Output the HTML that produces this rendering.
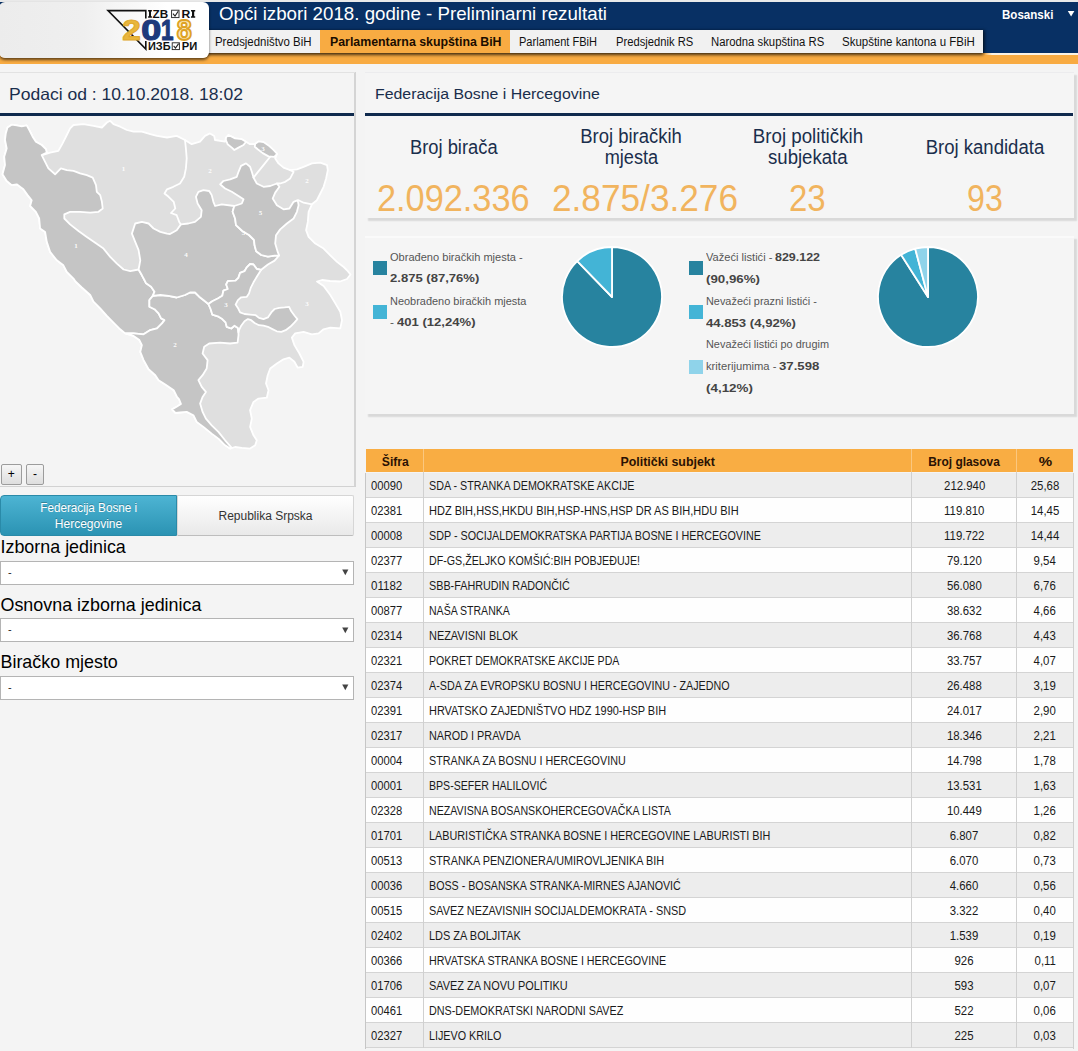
<!DOCTYPE html><html><head><meta charset="utf-8"><title>Opći izbori 2018</title><style>
html,body{margin:0;padding:0}
body{width:1078px;height:1051px;position:relative;overflow:hidden;background:#f4f4f4;font-family:"Liberation Sans",sans-serif;}
.t{position:absolute;white-space:pre;line-height:1;}
.abs{position:absolute;}
</style></head><body><div class="abs" style="left:0;top:0;width:1078px;height:2px;background:#e9e9e9"></div><div class="abs" style="left:0;top:2px;width:1078px;height:51px;background:#083064"></div><div class="abs" style="left:0;top:52.6px;width:1078px;height:11.2px;background:#f8ab42"></div><div class="abs" style="left:984px;top:52.6px;width:94px;height:2.4px;background:linear-gradient(90deg,rgba(251,243,228,0),#fbf3e4 8px)"></div><div class="abs" style="left:200px;top:30px;width:783px;height:23px;background:#f1f1f1;box-shadow:0 2px 3px rgba(0,0,0,.65), 2px 0 3px rgba(0,0,0,.4)"></div><div class="abs" style="left:320px;top:30px;width:190px;height:23px;background:#f8ab42"></div><div class="abs" style="left:-1px;top:2px;width:210px;height:56px;border-radius:6px;background:linear-gradient(90deg,#ececec 0%,#efefef 40%,#fff 80%);box-shadow:0 2px 3px rgba(0,0,0,.6)"></div><svg class="abs" style="left:100px;top:0" width="110" height="62" viewBox="100 0 110 62">
<path d="M145.8 18.5V10.6H108L145.8 49V41" fill="none" stroke="#111" stroke-width="1.6"/>
<g font-family="Liberation Sans,sans-serif" font-weight="bold" font-size="29.5" stroke-linejoin="round">
<text x="122.3" y="40" fill="#e9b63c" stroke="#e0a92e" stroke-width="1.1" textLength="18.6" lengthAdjust="spacingAndGlyphs">2</text>
<text x="141.2" y="40" fill="#1d3a7c" stroke="#1d3a7c" stroke-width="1.2" textLength="20" lengthAdjust="spacingAndGlyphs">0</text>
<text x="161" y="40" fill="#1d3a7c" stroke="#1d3a7c" stroke-width="1.2" textLength="12.5" lengthAdjust="spacingAndGlyphs">1</text>
<text x="176.8" y="40" fill="#fbe9b8" stroke="#dea224" stroke-width="2" textLength="15" lengthAdjust="spacingAndGlyphs">8</text>
</g>
<g font-family="Liberation Sans,sans-serif" font-weight="bold" fill="#111">
<text x="152.6" y="17.8" font-size="10.8" textLength="15.6" lengthAdjust="spacingAndGlyphs">ZB</text>
<text x="181.6" y="17.8" font-size="10.8" textLength="8.8" lengthAdjust="spacingAndGlyphs">R</text>
<text x="148" y="49.6" font-size="10.3" textLength="22.6" lengthAdjust="spacingAndGlyphs">ИЗБ</text>
<text x="181.8" y="49.6" font-size="10.3" textLength="15.5" lengthAdjust="spacingAndGlyphs">РИ</text>
<path d="M148.1 10.1h3.8v1.5h-.9v4.7h.9v1.5h-3.8v-1.5h.9v-4.7h-.9zM191 10.1h4.2v1.5h-1v4.7h1v1.5h-4.2v-1.5h1v-4.7h-1z"/>
</g>
<rect x="171.6" y="10.2" width="7.4" height="7.4" fill="#fff" stroke="#222" stroke-width=".9"/>
<path d="M173 13.6l2 2.4 3.2-4.8" fill="none" stroke="#222" stroke-width="1.1"/>
<rect x="172.2" y="42.8" width="7.2" height="6.8" fill="#fff" stroke="#222" stroke-width=".9"/>
<path d="M173.6 45.8l1.9 2.2 3.1-4.4" fill="none" stroke="#222" stroke-width="1.1"/>
</svg><span class="t" style="left:218.50px;top:4.54px;font-size:18.5px;color:#fff;transform:scaleX(1.0116);transform-origin:0 50%;">Opći izbori 2018. godine - Preliminarni rezultati</span><span class="t" style="left:215.00px;top:36.34px;font-size:12px;color:#111;transform:scaleX(0.9518);transform-origin:0 50%;">Predsjedništvo BiH</span><span class="t" style="left:330.00px;top:36.34px;font-size:12px;color:#1a0d00;font-weight:bold;transform:scaleX(1.0286);transform-origin:0 50%;">Parlamentarna skupština BiH</span><span class="t" style="left:519.30px;top:36.34px;font-size:12px;color:#111;transform:scaleX(0.9209);transform-origin:0 50%;">Parlament FBiH</span><span class="t" style="left:615.60px;top:36.34px;font-size:12px;color:#111;transform:scaleX(0.9333);transform-origin:0 50%;">Predsjednik RS</span><span class="t" style="left:711.30px;top:36.34px;font-size:12px;color:#111;transform:scaleX(0.9427);transform-origin:0 50%;">Narodna skupština RS</span><span class="t" style="left:842.00px;top:36.34px;font-size:12px;color:#111;transform:scaleX(0.9571);transform-origin:0 50%;">Skupštine kantona u FBiH</span><span class="t" style="left:1001.60px;top:9.24px;font-size:12px;color:#fff;font-weight:bold;transform:scaleX(0.9633);transform-origin:0 50%;">Bosanski</span><svg class="abs" style="left:1067px;top:10px" width="9" height="8"><path d="M.8 1h6.6L4.1 6.6z" fill="#fff"/></svg><div class="abs" style="left:0;top:72px;width:354.5px;height:414px;background:#f4f4f4"></div><div class="abs" style="left:354.2px;top:72px;width:1.6px;height:415px;background:#d4d4d4"></div><div class="abs" style="left:0;top:71.5px;width:355px;height:1px;background:#e2e2e2"></div><div class="abs" style="left:0;top:113px;width:354px;height:3px;background:#0f2a4d"></div><span class="t" style="left:9.00px;top:85.73px;font-size:16.5px;color:#1a2e4c;transform:scaleX(1.0627);transform-origin:0 50%;">Podaci od : 10.10.2018. 18:02</span><div class="abs" style="left:0;top:116px;width:354.2px;height:369.5px;background:#f4f4f4"></div><svg style="position:absolute;left:0;top:116px" width="355" height="371" viewBox="0 116 355 371"><g stroke="#fff" stroke-width="1.8" stroke-linejoin="round" stroke-linecap="round"><polygon fill="#dfdfdf" points="7.5,127.5 11.7,124.7 16.7,125.4 21.7,126.4 26.7,125.4 29.7,130.9 32.6,136.7 35.9,141.7 41.7,145.0 45.9,149.2 46.8,152.6 43.0,154.8 50.1,152.6 58.4,150.9 62.6,143.4 66.8,135.0 70.1,128.4 73.5,125.0 83.5,124.2 93.5,125.9 101.9,127.5 106.9,122.5 110.2,120.8 113.5,124.2 120.2,126.7 126.9,130.0 133.6,131.7 141.9,131.7 150.3,134.2 157.0,135.9 167.0,137.5 176.7,135.9 185.0,140.0 191.7,144.2 200.0,141.7 205.0,135.9 210.0,133.4 214.2,135.9 215.0,140.0 225.0,141.7 226.0,137.5 228.4,135.0 235.1,138.4 241.8,139.2 246.0,141.7 250.0,144.2 255.2,144.2 258.5,141.7 263.5,142.6 268.5,147.6 272.7,150.9 276.9,154.2 275.2,158.4 278.5,163.4 283.5,167.6 290.2,170.1 296.9,169.3 303.6,166.8 311.9,163.4 320.3,162.6 327.0,165.1 327.8,170.1 326.1,178.4 323.6,186.8 320.3,193.5 316.9,200.2 311.9,204.3 308.6,211.8 307.8,221.9 306.1,230.2 308.6,236.9 315.3,243.6 323.6,248.6 330.3,255.3 337.0,261.9 343.7,267.0 347.8,271.1 350.5,274.5 347.0,279.0 340.0,281.5 330.0,281.0 322.0,280.0 317.0,281.5 323.6,286.0 330.3,295.0 335.3,303.4 340.3,311.7 342.0,320.1 340.3,328.4 330.3,327.6 323.6,329.3 318.6,333.4 311.9,334.3 303.6,331.8 295.2,333.4 291.9,337.6 294.4,345.1 299.4,353.5 303.6,361.8 302.7,366.8 297.7,367.7 294.4,361.8 289.4,357.6 283.5,359.3 276.9,363.5 270.2,368.5 267.7,375.2 266.0,383.5 268.5,390.2 266.8,397.7 258.5,398.6 253.5,401.9 250.1,410.2 251.8,418.6 250.1,426.9 253.5,435.3 256.8,440.3 255.2,445.3 250.1,448.6 241.8,447.8 235.1,447.0 230.1,448.6 225.1,445.3 218.4,438.6 211.7,433.6 203.4,426.9 196.7,421.9 193.4,415.2 186.7,411.9 180.0,412.5 175.5,413.0 172.0,409.4 177.0,406.5 181.0,404.0 179.0,399.0 177.0,396.9 173.7,390.2 165.3,384.4 158.6,380.2 155.3,375.2 148.6,369.3 143.6,360.1 140.3,351.8 141.9,345.1 139.4,340.1 133.6,335.9 125.2,333.4 120.2,329.3 113.5,322.6 106.9,315.9 100.2,308.4 93.5,301.7 90.2,295.0 81.8,287.5 75.5,281.5 73.5,278.6 66.8,272.0 63.4,265.3 56.8,260.3 50.1,251.9 46.8,241.9 45.1,231.9 40.1,228.5 39.2,218.5 35.9,211.8 30.1,206.0 31.7,200.2 27.6,195.1 23.4,189.3 16.7,184.3 11.7,185.1 6.7,181.0 2.5,174.3 5.0,165.1 4.2,156.7 6.7,148.4 5.0,140.0 5.8,133.4"/><polygon fill="#c5c5c5" points="7.5,127.5 11.7,124.7 16.7,125.4 21.7,126.4 26.7,125.4 29.7,130.9 32.6,136.7 35.9,141.7 41.7,145.0 45.9,149.2 46.8,152.6 41.7,155.1 45.1,161.8 48.4,168.4 55.1,174.3 60.9,168.4 66.8,170.1 73.5,170.9 80.1,173.4 86.8,175.1 92.7,177.6 96.0,185.1 96.8,191.8 100.2,195.1 101.9,201.8 102.7,208.5 98.5,211.8 90.2,212.7 80.1,211.8 70.1,211.8 64.3,214.3 64.3,218.5 70.1,224.4 78.5,231.0 86.8,236.9 95.2,242.7 103.5,248.6 110.2,256.9 116.9,263.6 123.6,269.5 130.2,271.1 138.6,269.5 141.9,275.3 144.4,280.0 146.1,283.3 151.1,286.7 154.5,291.7 152.8,295.9 149.4,300.0 149.4,306.7 154.5,309.2 158.6,313.4 161.1,318.4 164.5,320.1 162.0,323.4 157.0,328.4 150.3,330.1 143.6,334.3 133.6,333.4 125.2,333.4 120.2,329.3 113.5,322.6 106.9,315.9 100.2,308.4 93.5,301.7 90.2,295.0 81.8,287.5 75.5,281.5 73.5,278.6 66.8,272.0 63.4,265.3 56.8,260.3 50.1,251.9 46.8,241.9 45.1,231.9 40.1,228.5 39.2,218.5 35.9,211.8 30.1,206.0 31.7,200.2 27.6,195.1 23.4,189.3 16.7,184.3 11.7,185.1 6.7,181.0 2.5,174.3 5.0,165.1 4.2,156.7 6.7,148.4 5.0,140.0 5.8,133.4"/><polygon fill="#c5c5c5" points="152.8,295.9 160.3,295.0 168.6,295.9 176.7,297.5 185.0,295.0 190.0,292.5 195.0,292.5 199.2,296.7 203.4,300.0 208.4,304.0 210.6,309.0 212.3,314.6 217.8,316.3 222.3,319.1 225.6,322.4 226.7,326.8 231.2,328.5 234.5,325.7 237.9,328.0 238.4,332.4 238.5,335.1 237.6,342.6 230.1,343.5 220.1,342.6 209.2,343.5 204.2,346.8 202.6,353.5 207.6,360.1 206.7,368.5 202.6,375.2 198.4,380.2 201.7,386.9 205.9,391.9 202.6,396.9 200.1,403.6 202.6,411.9 205.9,418.6 211.7,425.3 218.4,431.9 225.1,440.3 231.8,447.8 230.1,448.6 225.1,445.3 218.4,438.6 211.7,433.6 203.4,426.9 196.7,421.9 193.4,415.2 186.7,411.9 180.0,412.5 175.5,413.0 172.0,409.4 177.0,406.5 181.0,404.0 179.0,399.0 177.0,396.9 173.7,390.2 165.3,384.4 158.6,380.2 155.3,375.2 148.6,369.3 143.6,360.1 140.3,351.8 141.9,345.1 139.4,340.1 133.6,335.9 125.2,333.4 133.6,333.4 143.6,334.3 150.3,330.1 157.0,328.4 162.0,323.4 164.5,320.1 161.1,318.4 158.6,313.4 154.5,309.2 149.4,306.7 149.4,300.0"/><polygon fill="#c5c5c5" points="138.6,269.5 141.9,275.3 144.4,280.0 146.1,283.3 151.1,286.7 154.5,291.7 152.8,295.9 160.3,295.0 168.6,295.9 176.7,297.5 185.0,295.0 190.0,292.5 195.0,292.5 199.2,296.7 203.4,300.0 208.4,304.0 212.3,301.2 217.8,298.5 222.3,295.7 223.4,290.7 227.8,289.0 226.2,284.5 227.8,281.2 235.6,280.6 238.4,277.9 240.1,272.9 244.5,271.2 246.8,267.3 250.1,264.0 253.5,264.5 256.8,269.0 261.2,269.8 267.9,264.5 274.6,260.6 279.1,255.5 274.6,255.6 267.9,256.7 261.2,255.0 256.2,251.2 254.6,245.6 254.0,240.0 249.0,235.0 242.3,231.0 236.0,225.2 235.1,218.5 232.6,211.8 234.3,206.0 221.8,204.3 215.1,206.0 213.4,201.8 211.7,195.1 209.2,191.0 203.4,190.1 198.4,191.8 195.9,196.8 197.6,203.5 201.7,210.2 200.9,216.9 195.0,221.9 188.4,223.5 180.9,224.4 176.7,230.2 170.0,234.0 167.0,233.6 160.3,231.9 153.6,228.5 148.6,223.5 141.9,221.9 135.2,223.5 131.9,233.6 135.2,241.9 138.6,250.2 140.3,260.3"/><polygon fill="#c5c5c5" points="234.3,206.0 241.8,203.5 243.5,199.3 238.5,196.0 231.8,191.8 225.1,188.5 220.1,184.3 223.4,181.0 230.1,179.3 236.8,176.8 238.5,171.8 241.0,165.9 246.0,163.4 250.1,166.8 251.8,171.8 253.5,177.6 256.8,183.5 263.5,186.8 270.2,186.0 276.9,183.5 279.4,186.8 275.2,192.6 272.7,198.5 276.9,205.2 283.5,209.3 289.4,208.5 293.6,201.8 297.7,200.2 298.6,205.2 296.9,211.8 293.6,218.5 286.9,223.5 280.2,229.4 276.0,235.2 275.2,243.6 277.7,251.9 279.1,255.5 274.6,255.6 267.9,256.7 261.2,255.0 256.2,251.2 254.6,245.6 254.0,240.0 249.0,235.0 242.3,231.0 236.0,225.2 235.1,218.5 232.6,211.8"/><polygon fill="#c5c5c5" points="208.4,304.0 212.3,301.2 217.8,298.5 222.3,295.7 223.4,290.7 227.8,289.0 226.2,284.5 227.8,281.2 235.6,280.6 238.4,277.9 240.1,272.9 244.5,271.2 246.8,267.3 250.1,264.0 253.5,264.5 256.8,269.0 261.2,269.8 256.8,276.8 253.5,282.3 250.7,287.9 249.0,293.5 246.8,296.8 241.2,297.3 237.9,300.1 235.6,304.6 237.9,307.9 240.1,312.4 244.5,314.0 250.1,314.6 255.7,315.2 259.0,317.9 263.5,319.1 267.9,317.4 271.3,312.4 274.6,309.0 279.1,307.9 284.6,307.4 289.1,306.8 291.3,311.3 294.6,315.7 297.4,319.1 294.6,322.4 290.2,326.8 285.7,330.2 281.3,331.9 276.8,331.3 272.4,329.1 267.9,326.8 263.5,325.7 259.0,325.2 254.6,323.0 251.2,320.2 247.9,319.1 244.5,321.3 241.2,325.7 239.0,330.2 238.4,332.4 237.9,328.0 234.5,325.7 231.2,328.5 226.7,326.8 225.6,322.4 222.3,319.1 217.8,316.3 212.3,314.6 210.6,309.0"/><polygon fill="#c5c5c5" points="226.0,137.5 228.4,135.0 235.1,138.4 241.8,139.2 246.0,141.7 243.5,145.0 238.5,147.6 234.3,150.0 231.8,147.6 227.6,144.2 225.9,140.0"/><polygon fill="#c5c5c5" points="255.2,143.8 258.5,141.4 263.5,142.0 269.3,146.0 273.5,149.8 277.2,153.8 274.3,156.9 268.5,156.4 262.7,153.1 257.7,149.2 254.8,146.7"/><polyline fill="none" points="185.0,140.0 185.9,148.4 186.7,158.4 185.9,168.4 184.2,176.8 180.0,183.5 173.3,186.8 167.0,189.3 164.5,193.5 168.6,196.8 173.7,201.8 175.3,208.5 171.0,213.0 176.7,215.2 179.2,221.9 180.9,224.4"/><polyline fill="none" points="270.2,156.7 263.5,165.1 256.8,173.4 253.5,177.6"/><polyline fill="none" points="290.2,170.1 293.6,171.8 290.2,178.4 285.2,181.8 280.2,183.5 276.9,183.5"/><polyline fill="none" points="311.9,204.3 303.6,202.7 298.6,200.2"/></g><g fill="#fff" font-family="Liberation Serif,serif" font-weight="bold" font-size="7" text-anchor="middle" opacity="0.95"><text x="76" y="248">1</text><text x="123.5" y="170.5">1</text><text x="210" y="172.5">2</text><text x="186" y="257">4</text><text x="260.5" y="214.5">5</text><text x="307" y="182.5">2</text><text x="307" y="306">3</text><text x="226" y="307">3</text><text x="175" y="347">2</text><text x="263" y="150.5">3</text><text x="243.5" y="235">5</text></g></svg><div class="abs" style="left:0;top:485.5px;width:355.8px;height:1.5px;background:#d2d2d2"></div><div class="abs" style="left:1px;top:464px;width:18.5px;height:19px;border:1px solid #9c9c9c;border-radius:2px;background:linear-gradient(#f6f6f6,#dedede);box-sizing:content-box"></div><div class="abs" style="left:26px;top:464px;width:16px;height:19px;border:1px solid #9c9c9c;border-radius:2px;background:linear-gradient(#f6f6f6,#dedede);box-sizing:content-box"></div><span class="t" style="left:7.79px;top:468.34px;font-size:12px;color:#000;">+</span><span class="t" style="left:33.00px;top:467.84px;font-size:12px;color:#000;">-</span><div class="abs" style="left:0;top:495px;width:176.5px;height:40.5px;border-radius:4px 0 0 4px;background:linear-gradient(#4db4d3,#2b93b3);border:1px solid #2a8aa8;box-sizing:border-box"></div><div class="abs" style="left:176.5px;top:495px;width:177px;height:40.5px;border-radius:0 2px 2px 0;background:linear-gradient(#fff,#e9e9e9);border:1px solid #d6d6d6;border-bottom-color:#bdbdbd;box-sizing:border-box"></div><span class="t" style="left:39.10px;top:502.14px;font-size:12px;color:#fff;transform:scaleX(0.9739);transform-origin:50% 50%;text-shadow:0 -1px 0 rgba(0,0,0,.25);">Federacija Bosne i</span><span class="t" style="left:54.81px;top:517.54px;font-size:12px;color:#fff;text-shadow:0 -1px 0 rgba(0,0,0,.25);">Hercegovine</span><span class="t" style="left:218.47px;top:510.34px;font-size:12px;color:#333;">Republika Srpska</span><span class="t" style="left:0.50px;top:539.15px;font-size:17.9px;color:#000;">Izborna jedinica</span><div class="abs" style="left:0;top:560.5px;width:354px;height:24px;border:1px solid #b4b4b4;background:#fff;box-sizing:border-box"></div><span class="t" style="left:8.00px;top:566.69px;font-size:11px;color:#222;">-</span><svg class="abs" style="left:340.5px;top:569.0px" width="9" height="8"><path d="M1.2 .6h6.2L4.3 6.2z" fill="#444"/></svg><span class="t" style="left:0.50px;top:596.75px;font-size:17.9px;color:#000;">Osnovna izborna jedinica</span><div class="abs" style="left:0;top:618.3px;width:354px;height:24px;border:1px solid #b4b4b4;background:#fff;box-sizing:border-box"></div><span class="t" style="left:8.00px;top:624.49px;font-size:11px;color:#222;">-</span><svg class="abs" style="left:340.5px;top:626.8px" width="9" height="8"><path d="M1.2 .6h6.2L4.3 6.2z" fill="#444"/></svg><span class="t" style="left:0.50px;top:654.05px;font-size:17.9px;color:#000;">Biračko mjesto</span><div class="abs" style="left:0;top:675.5px;width:354px;height:24px;border:1px solid #b4b4b4;background:#fff;box-sizing:border-box"></div><span class="t" style="left:8.00px;top:681.69px;font-size:11px;color:#222;">-</span><svg class="abs" style="left:340.5px;top:684.0px" width="9" height="8"><path d="M1.2 .6h6.2L4.3 6.2z" fill="#444"/></svg><div class="abs" style="left:365px;top:72px;width:709px;height:146px;background:#f5f5f5;box-shadow:2.5px 2.5px 1.2px rgba(0,0,0,.11);border-top:1px solid #ececee;box-sizing:border-box"></div><div class="abs" style="left:365px;top:113px;width:708px;height:3px;background:#0f2a4d"></div><span class="t" style="left:375.00px;top:85.88px;font-size:15.5px;color:#1a2e4c;transform:scaleX(1.0232);transform-origin:0 50%;">Federacija Bosne i Hercegovine</span><span class="t" style="left:406.00px;top:136.67px;font-size:20px;color:#1a2e4c;transform:scaleX(0.9162);transform-origin:50% 50%;">Broj birača</span><span class="t" style="left:576.18px;top:125.77px;font-size:20px;color:#1a2e4c;transform:scaleX(0.9232);transform-origin:50% 50%;">Broj biračkih</span><span class="t" style="left:601.75px;top:147.07px;font-size:20px;color:#1a2e4c;transform:scaleX(0.9082);transform-origin:50% 50%;">mjesta</span><span class="t" style="left:749.29px;top:125.77px;font-size:20px;color:#1a2e4c;transform:scaleX(0.9361);transform-origin:50% 50%;">Broj političkih</span><span class="t" style="left:764.99px;top:147.07px;font-size:20px;color:#1a2e4c;transform:scaleX(0.9296);transform-origin:50% 50%;">subjekata</span><span class="t" style="left:921.06px;top:136.67px;font-size:20px;color:#1a2e4c;transform:scaleX(0.9275);transform-origin:50% 50%;">Broj kandidata</span><span class="t" style="left:377.40px;top:181.03px;font-size:36px;color:#f1b45e;transform:scaleX(0.9528);transform-origin:0 50%;">2.092.336</span><span class="t" style="left:552.00px;top:181.03px;font-size:36px;color:#f1b45e;transform:scaleX(0.9780);transform-origin:0 50%;">2.875/3.276</span><span class="t" style="left:788.80px;top:181.03px;font-size:36px;color:#f1b45e;transform:scaleX(0.9164);transform-origin:0 50%;">23</span><span class="t" style="left:966.80px;top:181.03px;font-size:36px;color:#f1b45e;transform:scaleX(0.8940);transform-origin:0 50%;">93</span><div class="abs" style="left:365px;top:236px;width:709px;height:178px;background:#f5f5f5;box-shadow:2.5px 2.5px 1.2px rgba(0,0,0,.11);border-top:2px solid #fafafa;box-sizing:border-box"></div><div class="abs" style="left:372.7px;top:261px;width:14px;height:14px;background:#27839f"></div><div class="abs" style="left:372.7px;top:305px;width:14px;height:14px;background:#43b4d6"></div><div class="abs" style="left:689.2px;top:261px;width:14px;height:14px;background:#27839f"></div><div class="abs" style="left:689.2px;top:305.3px;width:14px;height:14px;background:#43b4d6"></div><div class="abs" style="left:689.2px;top:359.6px;width:14px;height:14px;background:#8fd3ea"></div><span class="t" style="left:390.00px;top:251.69px;font-size:11px;color:#555;transform:scaleX(1.0048);transform-origin:0 50%;">Obrađeno biračkih mjesta -</span><span class="t" style="left:390.00px;top:273.29px;font-size:11px;color:#444;font-weight:bold;transform:scaleX(1.1872);transform-origin:0 50%;">2.875 (87,76%)</span><span class="t" style="left:390.00px;top:295.69px;font-size:11px;color:#555;transform:scaleX(0.9958);transform-origin:0 50%;">Neobrađeno biračkih mjesta</span><span class="t" style="left:390.00px;top:317.49px;font-size:11px;color:#555;transform:scaleX(1.0840);transform-origin:0 50%;">- </span><span class="t" style="left:397.30px;top:317.49px;font-size:11px;color:#444;font-weight:bold;transform:scaleX(1.1885);transform-origin:0 50%;">401 (12,24%)</span><span class="t" style="left:705.80px;top:251.69px;font-size:11px;color:#555;transform:scaleX(1.0091);transform-origin:0 50%;">Važeći listići - </span><span class="t" style="left:775.30px;top:251.69px;font-size:11px;color:#444;font-weight:bold;transform:scaleX(1.1316);transform-origin:0 50%;">829.122</span><span class="t" style="left:705.80px;top:273.89px;font-size:11px;color:#444;font-weight:bold;transform:scaleX(1.2097);transform-origin:0 50%;">(90,96%)</span><span class="t" style="left:705.80px;top:295.69px;font-size:11px;color:#555;transform:scaleX(0.9904);transform-origin:0 50%;">Nevažeći prazni listići -</span><span class="t" style="left:705.80px;top:317.89px;font-size:11px;color:#444;font-weight:bold;transform:scaleX(1.1939);transform-origin:0 50%;">44.853 (4,92%)</span><span class="t" style="left:705.80px;top:339.49px;font-size:11px;color:#555;transform:scaleX(0.9911);transform-origin:0 50%;">Nevažeći listići po drugim</span><span class="t" style="left:705.80px;top:361.49px;font-size:11px;color:#555;transform:scaleX(1.0191);transform-origin:0 50%;">kriterijumima - </span><span class="t" style="left:779.30px;top:361.49px;font-size:11px;color:#444;font-weight:bold;transform:scaleX(1.1974);transform-origin:0 50%;">37.598</span><span class="t" style="left:705.80px;top:382.69px;font-size:11px;color:#444;font-weight:bold;transform:scaleX(1.2198);transform-origin:0 50%;">(4,12%)</span><svg class="abs" style="left:560.2px;top:245px" width="104" height="104" viewBox="560.2 245 104 104"><path d="M612.2 297L612.20 247.00A50 50 0 1 1 577.43 261.07Z" fill="#27839f" stroke="#fff" stroke-width="1.8" stroke-linejoin="round"/><path d="M612.2 297L577.43 261.07A50 50 0 0 1 612.20 247.00Z" fill="#43b4d6" stroke="#fff" stroke-width="1.8" stroke-linejoin="round"/></svg><svg class="abs" style="left:876px;top:245px" width="104" height="104" viewBox="876 245 104 104"><path d="M928 297L928.00 247.00A50 50 0 1 1 901.10 254.85Z" fill="#27839f" stroke="#fff" stroke-width="1.8" stroke-linejoin="round"/><path d="M928 297L901.10 254.85A50 50 0 0 1 915.20 248.67Z" fill="#43b4d6" stroke="#fff" stroke-width="1.8" stroke-linejoin="round"/><path d="M928 297L915.20 248.67A50 50 0 0 1 928.00 247.00Z" fill="#8fd3ea" stroke="#fff" stroke-width="1.8" stroke-linejoin="round"/></svg><div class="abs" style="left:365.6px;top:449.3px;width:707.4px;height:22.7px;background:#f9ad43"></div><span class="t" style="left:381.56px;top:455.64px;font-size:12px;color:#2a1204;font-weight:bold;transform:scaleX(1.0117);transform-origin:50% 50%;">Šifra</span><span class="t" style="left:622.32px;top:455.64px;font-size:12px;color:#2a1204;font-weight:bold;transform:scaleX(1.0322);transform-origin:50% 50%;">Politički subjekt</span><span class="t" style="left:928.38px;top:455.64px;font-size:12px;color:#2a1204;font-weight:bold;transform:scaleX(0.9940);transform-origin:50% 50%;">Broj glasova</span><span class="t" style="left:1039.56px;top:455.64px;font-size:12px;color:#2a1204;font-weight:bold;transform:scaleX(1.2556);transform-origin:50% 50%;">%</span><div class="abs" style="left:365.6px;top:472.5px;width:707.4px;height:24.5px;background:#ededed;border-bottom:1px solid #d4d4d4;box-sizing:content-box"></div><span class="t" style="left:371.40px;top:479.64px;font-size:12px;color:#1a1a1a;transform:scaleX(0.9348);transform-origin:0 50%;">00090</span><span class="t" style="left:429.40px;top:479.64px;font-size:12px;color:#1a1a1a;transform:scaleX(0.8937);transform-origin:0 50%;">SDA - STRANKA DEMOKRATSKE AKCIJE</span><span class="t" style="left:942.80px;top:479.64px;font-size:12px;color:#1a1a1a;transform:scaleX(0.9500);transform-origin:50% 50%;">212.940</span><span class="t" style="left:1029.98px;top:479.64px;font-size:12px;color:#1a1a1a;transform:scaleX(0.9500);transform-origin:50% 50%;">25,68</span><div class="abs" style="left:365.6px;top:497.5px;width:707.4px;height:24.5px;background:#fefefe;border-bottom:1px solid #d4d4d4;box-sizing:content-box"></div><span class="t" style="left:371.40px;top:504.64px;font-size:12px;color:#1a1a1a;transform:scaleX(0.9348);transform-origin:0 50%;">02381</span><span class="t" style="left:429.40px;top:504.64px;font-size:12px;color:#1a1a1a;transform:scaleX(0.9182);transform-origin:0 50%;">HDZ BIH,HSS,HKDU BIH,HSP-HNS,HSP DR AS BIH,HDU BIH</span><span class="t" style="left:943.25px;top:504.64px;font-size:12px;color:#1a1a1a;transform:scaleX(0.9500);transform-origin:50% 50%;">119.810</span><span class="t" style="left:1029.98px;top:504.64px;font-size:12px;color:#1a1a1a;transform:scaleX(0.9500);transform-origin:50% 50%;">14,45</span><div class="abs" style="left:365.6px;top:522.5px;width:707.4px;height:24.5px;background:#ededed;border-bottom:1px solid #d4d4d4;box-sizing:content-box"></div><span class="t" style="left:371.40px;top:529.64px;font-size:12px;color:#1a1a1a;transform:scaleX(0.9348);transform-origin:0 50%;">00008</span><span class="t" style="left:429.40px;top:529.64px;font-size:12px;color:#1a1a1a;transform:scaleX(0.8957);transform-origin:0 50%;">SDP - SOCIJALDEMOKRATSKA PARTIJA BOSNE I HERCEGOVINE</span><span class="t" style="left:943.25px;top:529.64px;font-size:12px;color:#1a1a1a;transform:scaleX(0.9500);transform-origin:50% 50%;">119.722</span><span class="t" style="left:1029.98px;top:529.64px;font-size:12px;color:#1a1a1a;transform:scaleX(0.9500);transform-origin:50% 50%;">14,44</span><div class="abs" style="left:365.6px;top:547.5px;width:707.4px;height:24.5px;background:#fefefe;border-bottom:1px solid #d4d4d4;box-sizing:content-box"></div><span class="t" style="left:371.40px;top:554.64px;font-size:12px;color:#1a1a1a;transform:scaleX(0.9348);transform-origin:0 50%;">02377</span><span class="t" style="left:429.40px;top:554.64px;font-size:12px;color:#1a1a1a;transform:scaleX(0.8889);transform-origin:0 50%;">DF-GS,ŽELJKO KOMŠIĆ:BIH POBJEĐUJE!</span><span class="t" style="left:946.15px;top:554.64px;font-size:12px;color:#1a1a1a;transform:scaleX(0.9500);transform-origin:50% 50%;">79.120</span><span class="t" style="left:1033.32px;top:554.64px;font-size:12px;color:#1a1a1a;transform:scaleX(0.9500);transform-origin:50% 50%;">9,54</span><div class="abs" style="left:365.6px;top:572.5px;width:707.4px;height:24.5px;background:#ededed;border-bottom:1px solid #d4d4d4;box-sizing:content-box"></div><span class="t" style="left:371.40px;top:579.64px;font-size:12px;color:#1a1a1a;transform:scaleX(0.9605);transform-origin:0 50%;">01182</span><span class="t" style="left:429.40px;top:579.64px;font-size:12px;color:#1a1a1a;transform:scaleX(0.8992);transform-origin:0 50%;">SBB-FAHRUDIN RADONČIĆ</span><span class="t" style="left:946.15px;top:579.64px;font-size:12px;color:#1a1a1a;transform:scaleX(0.9500);transform-origin:50% 50%;">56.080</span><span class="t" style="left:1033.32px;top:579.64px;font-size:12px;color:#1a1a1a;transform:scaleX(0.9500);transform-origin:50% 50%;">6,76</span><div class="abs" style="left:365.6px;top:597.5px;width:707.4px;height:24.5px;background:#fefefe;border-bottom:1px solid #d4d4d4;box-sizing:content-box"></div><span class="t" style="left:371.40px;top:604.64px;font-size:12px;color:#1a1a1a;transform:scaleX(0.9348);transform-origin:0 50%;">00877</span><span class="t" style="left:429.40px;top:604.64px;font-size:12px;color:#1a1a1a;transform:scaleX(0.8780);transform-origin:0 50%;">NAŠA STRANKA</span><span class="t" style="left:946.15px;top:604.64px;font-size:12px;color:#1a1a1a;transform:scaleX(0.9500);transform-origin:50% 50%;">38.632</span><span class="t" style="left:1033.32px;top:604.64px;font-size:12px;color:#1a1a1a;transform:scaleX(0.9500);transform-origin:50% 50%;">4,66</span><div class="abs" style="left:365.6px;top:622.5px;width:707.4px;height:24.5px;background:#ededed;border-bottom:1px solid #d4d4d4;box-sizing:content-box"></div><span class="t" style="left:371.40px;top:629.64px;font-size:12px;color:#1a1a1a;transform:scaleX(0.9348);transform-origin:0 50%;">02314</span><span class="t" style="left:429.40px;top:629.64px;font-size:12px;color:#1a1a1a;transform:scaleX(0.9109);transform-origin:0 50%;">NEZAVISNI BLOK</span><span class="t" style="left:946.15px;top:629.64px;font-size:12px;color:#1a1a1a;transform:scaleX(0.9500);transform-origin:50% 50%;">36.768</span><span class="t" style="left:1033.32px;top:629.64px;font-size:12px;color:#1a1a1a;transform:scaleX(0.9500);transform-origin:50% 50%;">4,43</span><div class="abs" style="left:365.6px;top:647.5px;width:707.4px;height:24.5px;background:#fefefe;border-bottom:1px solid #d4d4d4;box-sizing:content-box"></div><span class="t" style="left:371.40px;top:654.64px;font-size:12px;color:#1a1a1a;transform:scaleX(0.9348);transform-origin:0 50%;">02321</span><span class="t" style="left:429.40px;top:654.64px;font-size:12px;color:#1a1a1a;transform:scaleX(0.8799);transform-origin:0 50%;">POKRET DEMOKRATSKE AKCIJE PDA</span><span class="t" style="left:946.15px;top:654.64px;font-size:12px;color:#1a1a1a;transform:scaleX(0.9500);transform-origin:50% 50%;">33.757</span><span class="t" style="left:1033.32px;top:654.64px;font-size:12px;color:#1a1a1a;transform:scaleX(0.9500);transform-origin:50% 50%;">4,07</span><div class="abs" style="left:365.6px;top:672.5px;width:707.4px;height:24.5px;background:#ededed;border-bottom:1px solid #d4d4d4;box-sizing:content-box"></div><span class="t" style="left:371.40px;top:679.64px;font-size:12px;color:#1a1a1a;transform:scaleX(0.9348);transform-origin:0 50%;">02374</span><span class="t" style="left:429.40px;top:679.64px;font-size:12px;color:#1a1a1a;transform:scaleX(0.8945);transform-origin:0 50%;">A-SDA ZA EVROPSKU BOSNU I HERCEGOVINU - ZAJEDNO</span><span class="t" style="left:946.15px;top:679.64px;font-size:12px;color:#1a1a1a;transform:scaleX(0.9500);transform-origin:50% 50%;">26.488</span><span class="t" style="left:1033.32px;top:679.64px;font-size:12px;color:#1a1a1a;transform:scaleX(0.9500);transform-origin:50% 50%;">3,19</span><div class="abs" style="left:365.6px;top:697.5px;width:707.4px;height:24.5px;background:#fefefe;border-bottom:1px solid #d4d4d4;box-sizing:content-box"></div><span class="t" style="left:371.40px;top:704.64px;font-size:12px;color:#1a1a1a;transform:scaleX(0.9348);transform-origin:0 50%;">02391</span><span class="t" style="left:429.40px;top:704.64px;font-size:12px;color:#1a1a1a;transform:scaleX(0.9125);transform-origin:0 50%;">HRVATSKO ZAJEDNIŠTVO HDZ 1990-HSP BIH</span><span class="t" style="left:946.15px;top:704.64px;font-size:12px;color:#1a1a1a;transform:scaleX(0.9500);transform-origin:50% 50%;">24.017</span><span class="t" style="left:1033.32px;top:704.64px;font-size:12px;color:#1a1a1a;transform:scaleX(0.9500);transform-origin:50% 50%;">2,90</span><div class="abs" style="left:365.6px;top:722.5px;width:707.4px;height:24.5px;background:#ededed;border-bottom:1px solid #d4d4d4;box-sizing:content-box"></div><span class="t" style="left:371.40px;top:729.64px;font-size:12px;color:#1a1a1a;transform:scaleX(0.9348);transform-origin:0 50%;">02317</span><span class="t" style="left:429.40px;top:729.64px;font-size:12px;color:#1a1a1a;transform:scaleX(0.9018);transform-origin:0 50%;">NAROD I PRAVDA</span><span class="t" style="left:946.15px;top:729.64px;font-size:12px;color:#1a1a1a;transform:scaleX(0.9500);transform-origin:50% 50%;">18.346</span><span class="t" style="left:1033.32px;top:729.64px;font-size:12px;color:#1a1a1a;transform:scaleX(0.9500);transform-origin:50% 50%;">2,21</span><div class="abs" style="left:365.6px;top:747.5px;width:707.4px;height:24.5px;background:#fefefe;border-bottom:1px solid #d4d4d4;box-sizing:content-box"></div><span class="t" style="left:371.40px;top:754.64px;font-size:12px;color:#1a1a1a;transform:scaleX(0.9348);transform-origin:0 50%;">00004</span><span class="t" style="left:429.40px;top:754.64px;font-size:12px;color:#1a1a1a;transform:scaleX(0.8966);transform-origin:0 50%;">STRANKA ZA BOSNU I HERCEGOVINU</span><span class="t" style="left:946.15px;top:754.64px;font-size:12px;color:#1a1a1a;transform:scaleX(0.9500);transform-origin:50% 50%;">14.798</span><span class="t" style="left:1033.32px;top:754.64px;font-size:12px;color:#1a1a1a;transform:scaleX(0.9500);transform-origin:50% 50%;">1,78</span><div class="abs" style="left:365.6px;top:772.5px;width:707.4px;height:24.5px;background:#ededed;border-bottom:1px solid #d4d4d4;box-sizing:content-box"></div><span class="t" style="left:371.40px;top:779.64px;font-size:12px;color:#1a1a1a;transform:scaleX(0.9348);transform-origin:0 50%;">00001</span><span class="t" style="left:429.40px;top:779.64px;font-size:12px;color:#1a1a1a;transform:scaleX(0.8818);transform-origin:0 50%;">BPS-SEFER HALILOVIĆ</span><span class="t" style="left:946.15px;top:779.64px;font-size:12px;color:#1a1a1a;transform:scaleX(0.9500);transform-origin:50% 50%;">13.531</span><span class="t" style="left:1033.32px;top:779.64px;font-size:12px;color:#1a1a1a;transform:scaleX(0.9500);transform-origin:50% 50%;">1,63</span><div class="abs" style="left:365.6px;top:797.5px;width:707.4px;height:24.5px;background:#fefefe;border-bottom:1px solid #d4d4d4;box-sizing:content-box"></div><span class="t" style="left:371.40px;top:804.64px;font-size:12px;color:#1a1a1a;transform:scaleX(0.9348);transform-origin:0 50%;">02328</span><span class="t" style="left:429.40px;top:804.64px;font-size:12px;color:#1a1a1a;transform:scaleX(0.8865);transform-origin:0 50%;">NEZAVISNA BOSANSKOHERCEGOVAČKA LISTA</span><span class="t" style="left:946.15px;top:804.64px;font-size:12px;color:#1a1a1a;transform:scaleX(0.9500);transform-origin:50% 50%;">10.449</span><span class="t" style="left:1033.32px;top:804.64px;font-size:12px;color:#1a1a1a;transform:scaleX(0.9500);transform-origin:50% 50%;">1,26</span><div class="abs" style="left:365.6px;top:822.5px;width:707.4px;height:24.5px;background:#ededed;border-bottom:1px solid #d4d4d4;box-sizing:content-box"></div><span class="t" style="left:371.40px;top:829.64px;font-size:12px;color:#1a1a1a;transform:scaleX(0.9348);transform-origin:0 50%;">01701</span><span class="t" style="left:429.40px;top:829.64px;font-size:12px;color:#1a1a1a;transform:scaleX(0.9027);transform-origin:0 50%;">LABURISTIČKA STRANKA BOSNE I HERCEGOVINE LABURISTI BIH</span><span class="t" style="left:949.48px;top:829.64px;font-size:12px;color:#1a1a1a;transform:scaleX(0.9500);transform-origin:50% 50%;">6.807</span><span class="t" style="left:1033.32px;top:829.64px;font-size:12px;color:#1a1a1a;transform:scaleX(0.9500);transform-origin:50% 50%;">0,82</span><div class="abs" style="left:365.6px;top:847.5px;width:707.4px;height:24.5px;background:#fefefe;border-bottom:1px solid #d4d4d4;box-sizing:content-box"></div><span class="t" style="left:371.40px;top:854.64px;font-size:12px;color:#1a1a1a;transform:scaleX(0.9348);transform-origin:0 50%;">00513</span><span class="t" style="left:429.40px;top:854.64px;font-size:12px;color:#1a1a1a;transform:scaleX(0.9040);transform-origin:0 50%;">STRANKA PENZIONERA/UMIROVLJENIKA BIH</span><span class="t" style="left:949.48px;top:854.64px;font-size:12px;color:#1a1a1a;transform:scaleX(0.9500);transform-origin:50% 50%;">6.070</span><span class="t" style="left:1033.32px;top:854.64px;font-size:12px;color:#1a1a1a;transform:scaleX(0.9500);transform-origin:50% 50%;">0,73</span><div class="abs" style="left:365.6px;top:872.5px;width:707.4px;height:24.5px;background:#ededed;border-bottom:1px solid #d4d4d4;box-sizing:content-box"></div><span class="t" style="left:371.40px;top:879.64px;font-size:12px;color:#1a1a1a;transform:scaleX(0.9348);transform-origin:0 50%;">00036</span><span class="t" style="left:429.40px;top:879.64px;font-size:12px;color:#1a1a1a;transform:scaleX(0.8906);transform-origin:0 50%;">BOSS - BOSANSKA STRANKA-MIRNES AJANOVIĆ</span><span class="t" style="left:949.48px;top:879.64px;font-size:12px;color:#1a1a1a;transform:scaleX(0.9500);transform-origin:50% 50%;">4.660</span><span class="t" style="left:1033.32px;top:879.64px;font-size:12px;color:#1a1a1a;transform:scaleX(0.9500);transform-origin:50% 50%;">0,56</span><div class="abs" style="left:365.6px;top:897.5px;width:707.4px;height:24.5px;background:#fefefe;border-bottom:1px solid #d4d4d4;box-sizing:content-box"></div><span class="t" style="left:371.40px;top:904.64px;font-size:12px;color:#1a1a1a;transform:scaleX(0.9348);transform-origin:0 50%;">00515</span><span class="t" style="left:429.40px;top:904.64px;font-size:12px;color:#1a1a1a;transform:scaleX(0.9058);transform-origin:0 50%;">SAVEZ NEZAVISNIH SOCIJALDEMOKRATA - SNSD</span><span class="t" style="left:949.48px;top:904.64px;font-size:12px;color:#1a1a1a;transform:scaleX(0.9500);transform-origin:50% 50%;">3.322</span><span class="t" style="left:1033.32px;top:904.64px;font-size:12px;color:#1a1a1a;transform:scaleX(0.9500);transform-origin:50% 50%;">0,40</span><div class="abs" style="left:365.6px;top:922.5px;width:707.4px;height:24.5px;background:#ededed;border-bottom:1px solid #d4d4d4;box-sizing:content-box"></div><span class="t" style="left:371.40px;top:929.64px;font-size:12px;color:#1a1a1a;transform:scaleX(0.9348);transform-origin:0 50%;">02402</span><span class="t" style="left:429.40px;top:929.64px;font-size:12px;color:#1a1a1a;transform:scaleX(0.9136);transform-origin:0 50%;">LDS ZA BOLJITAK</span><span class="t" style="left:949.48px;top:929.64px;font-size:12px;color:#1a1a1a;transform:scaleX(0.9500);transform-origin:50% 50%;">1.539</span><span class="t" style="left:1033.32px;top:929.64px;font-size:12px;color:#1a1a1a;transform:scaleX(0.9500);transform-origin:50% 50%;">0,19</span><div class="abs" style="left:365.6px;top:947.5px;width:707.4px;height:24.5px;background:#fefefe;border-bottom:1px solid #d4d4d4;box-sizing:content-box"></div><span class="t" style="left:371.40px;top:954.64px;font-size:12px;color:#1a1a1a;transform:scaleX(0.9348);transform-origin:0 50%;">00366</span><span class="t" style="left:429.40px;top:954.64px;font-size:12px;color:#1a1a1a;transform:scaleX(0.8933);transform-origin:0 50%;">HRVATSKA STRANKA BOSNE I HERCEGOVINE</span><span class="t" style="left:954.48px;top:954.64px;font-size:12px;color:#1a1a1a;transform:scaleX(0.9500);transform-origin:50% 50%;">926</span><span class="t" style="left:1033.77px;top:954.64px;font-size:12px;color:#1a1a1a;transform:scaleX(0.9500);transform-origin:50% 50%;">0,11</span><div class="abs" style="left:365.6px;top:972.5px;width:707.4px;height:24.5px;background:#ededed;border-bottom:1px solid #d4d4d4;box-sizing:content-box"></div><span class="t" style="left:371.40px;top:979.64px;font-size:12px;color:#1a1a1a;transform:scaleX(0.9348);transform-origin:0 50%;">01706</span><span class="t" style="left:429.40px;top:979.64px;font-size:12px;color:#1a1a1a;transform:scaleX(0.9089);transform-origin:0 50%;">SAVEZ ZA NOVU POLITIKU</span><span class="t" style="left:954.48px;top:979.64px;font-size:12px;color:#1a1a1a;transform:scaleX(0.9500);transform-origin:50% 50%;">593</span><span class="t" style="left:1033.32px;top:979.64px;font-size:12px;color:#1a1a1a;transform:scaleX(0.9500);transform-origin:50% 50%;">0,07</span><div class="abs" style="left:365.6px;top:997.5px;width:707.4px;height:24.5px;background:#fefefe;border-bottom:1px solid #d4d4d4;box-sizing:content-box"></div><span class="t" style="left:371.40px;top:1004.64px;font-size:12px;color:#1a1a1a;transform:scaleX(0.9348);transform-origin:0 50%;">00461</span><span class="t" style="left:429.40px;top:1004.64px;font-size:12px;color:#1a1a1a;transform:scaleX(0.8985);transform-origin:0 50%;">DNS-DEMOKRATSKI NARODNI SAVEZ</span><span class="t" style="left:954.48px;top:1004.64px;font-size:12px;color:#1a1a1a;transform:scaleX(0.9500);transform-origin:50% 50%;">522</span><span class="t" style="left:1033.32px;top:1004.64px;font-size:12px;color:#1a1a1a;transform:scaleX(0.9500);transform-origin:50% 50%;">0,06</span><div class="abs" style="left:365.6px;top:1022.5px;width:707.4px;height:24.5px;background:#ededed;border-bottom:1px solid #d4d4d4;box-sizing:content-box"></div><span class="t" style="left:371.40px;top:1029.64px;font-size:12px;color:#1a1a1a;transform:scaleX(0.9348);transform-origin:0 50%;">02327</span><span class="t" style="left:429.40px;top:1029.64px;font-size:12px;color:#1a1a1a;transform:scaleX(0.8971);transform-origin:0 50%;">LIJEVO KRILO</span><span class="t" style="left:954.48px;top:1029.64px;font-size:12px;color:#1a1a1a;transform:scaleX(0.9500);transform-origin:50% 50%;">225</span><span class="t" style="left:1033.32px;top:1029.64px;font-size:12px;color:#1a1a1a;transform:scaleX(0.9500);transform-origin:50% 50%;">0,03</span><div class="abs" style="left:423px;top:449.3px;width:1px;height:22.7px;background:#fbc77f"></div><div class="abs" style="left:423px;top:472px;width:1px;height:576px;background:#d0d0d0"></div><div class="abs" style="left:911px;top:449.3px;width:1px;height:22.7px;background:#fbc77f"></div><div class="abs" style="left:911px;top:472px;width:1px;height:576px;background:#d0d0d0"></div><div class="abs" style="left:1016px;top:449.3px;width:1px;height:22.7px;background:#fbc77f"></div><div class="abs" style="left:1016px;top:472px;width:1px;height:576px;background:#d0d0d0"></div><div class="abs" style="left:365.3px;top:472.5px;width:1px;height:576px;background:#c6c6c6"></div><div class="abs" style="left:1072.5px;top:472.5px;width:1px;height:576px;background:#d0d0d0"></div></body></html>
